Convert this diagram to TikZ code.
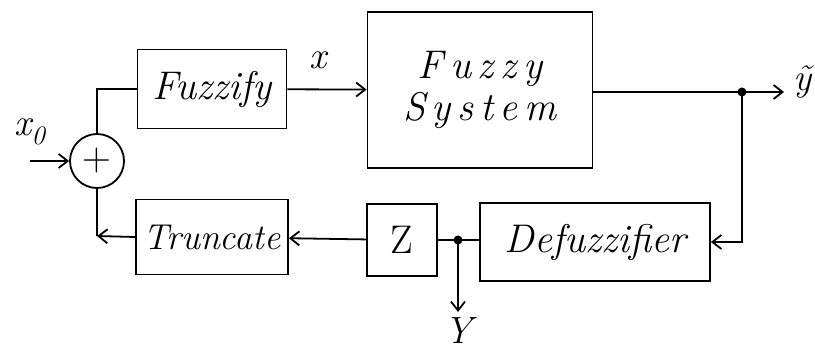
\documentclass[tikz,border=0pt]{standalone}
\usepackage{fontspec}
\usepackage{tikz}
\usetikzlibrary{positioning}
\usetikzlibrary{calc}
\usetikzlibrary{arrows.meta}
\tikzset{
	-{Straight Barb[length=9pt,width=14pt]},
	every path/.style={line width=1.8pt},
	every node/.style={font=\fontsize{40}{44}\selectfont\itshape},
	block/.style={rectangle, draw, align=center, inner sep=2pt},
	sumnode/.style={circle, draw, minimum size=54pt, inner sep=0pt},
	point/.style={circle, draw, fill, inner sep=2.5pt, node contents={}},
	sig/.style={font=\fontsize{38}{42}\selectfont\itshape, inner sep=0pt}
}

\begin{document}
\begin{tikzpicture}[x=1pt,y=-1pt]
	\useasboundingbox (0,0) rectangle (815,351);

	\node (sum) [sumnode] at (97,161) {\upshape +};
	\node (fuzz) [block, minimum width=149pt, minimum height=79pt] at (212,89) {Fuzzify};
	\node (fsys) [block, minimum width=225pt, minimum height=156pt] at (480,90) {F\,u\,z\,z\,y\\[-2pt]S\,y\,s\,t\,e\,m};
	\node (trunc) [block, minimum width=152pt, minimum height=75pt, font=\fontsize{36}{40}\selectfont\itshape] at (212,237) {Truncate};
	\node (zbox) [block, minimum width=70pt, minimum height=72pt] at (402,240) {\upshape Z};
	\node (defuz) [block, minimum width=230pt, minimum height=78pt] at (595,242) {Defuzzifier};

	\node (split) at (742,92) [point];
	\node (tap) at (458,240) [point];
	\coordinate (x0in) at (30,161);
	\coordinate (yt) at (784,92);
	\coordinate (yout) at (458,312);
	\coordinate (corner) at (97,236);

	\node (x0lbl) [sig] at (30,132) {x\textsubscript{0}};
	\node (xlbl) [sig] at (318,60) {x};
	\node (ytlbl) [sig] at (803,82) {\~{y}};
	\node (ylbl) [sig, anchor=base] at (458,343) {Y};

	\path (x0in) edge (sum);
	\draw[-] (sum.north) |- (fuzz.west);
	\path (fuzz) edge (fsys);
	\draw[-] (fsys.east |- split) -- (split);
	\path (split) edge (yt);
	\draw (split) |- (defuz.east);
	\draw[-] (defuz.west |- tap) -- (tap) -- (zbox.east);
	\path (tap) edge (yout);
	\path (zbox) edge (trunc);
	\draw (trunc.west) -- (corner);
	\draw[-] (corner) -- (sum.south);
\end{tikzpicture}
\end{document}
